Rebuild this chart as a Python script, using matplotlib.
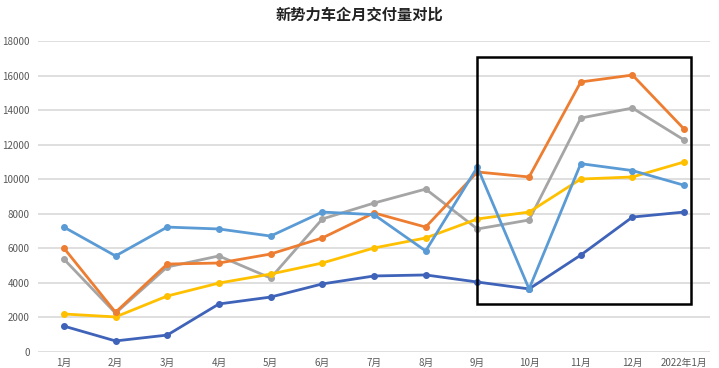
import matplotlib.pyplot as plt
from matplotlib.patches import Rectangle

plt.rcParams['font.family'] = ['Noto Sans CJK SC', 'DejaVu Sans']

months = ["1月", "2月", "3月", "4月", "5月", "6月", "7月", "8月", "9月",
          "10月", "11月", "12月", "2022年1月"]

orange = [6020, 2300, 5090, 5150, 5670, 6600, 8050, 7230, 10420, 10130, 15630, 16030, 12900]
gray = [5380, 2250, 4920, 5560, 4280, 7700, 8620, 9430, 7120, 7640, 13540, 14120, 12270]
light_blue = [7230, 5560, 7230, 7120, 6710, 8100, 7950, 5850, 10700, 3650, 10900, 10500, 9650]
yellow = [2200, 2030, 3240, 3990, 4510, 5150, 6020, 6600, 7700, 8100, 10010, 10130, 11000]
dark_blue = [1500, 640, 980, 2780, 3180, 3940, 4400, 4460, 4050, 3650, 5610, 7810, 8100]

series = [
    (gray, "#A5A5A5"),
    (yellow, "#FFC000"),
    (dark_blue, "#3F63B8"),
    (orange, "#ED7D31"),
    (light_blue, "#5B9BD5"),
]

fig = plt.figure(figsize=(7.19, 3.68), dpi=100)
ax = fig.add_axes([38 / 719, 1 - 352 / 368, 672 / 719, 311 / 368])

x = list(range(len(months)))
for vals, col in series:
    ax.plot(x, vals, color=col, lw=2, marker="o", ms=4, zorder=3)

ax.set_xlim(-0.5, 12.5)
ax.set_ylim(0, 18000)
ax.set_yticks(range(0, 18001, 2000))
ax.set_xticks(x)
ax.set_xticklabels(months)
ax.tick_params(axis="both", length=0, labelsize=7, colors="#595959")
ax.tick_params(axis="y", pad=6)
ax.tick_params(axis="x", pad=4)
ax.grid(axis="y", color="#D9D9D9", lw=1.2)
ax.set_axisbelow(True)
for s in ax.spines.values():
    s.set_visible(False)

# highlight box over the last months
ax.add_patch(Rectangle((8, 2780), 4.13, 14290, fill=False, ec="black", lw=1.8,
                       zorder=4, clip_on=False))

fig.text(0.5, 1 - 15 / 368, "新势力车企月交付量对比", ha="center", va="center",
         fontsize=11, fontweight="bold", color="#222222")

fig.savefig("out.png", dpi=100)
